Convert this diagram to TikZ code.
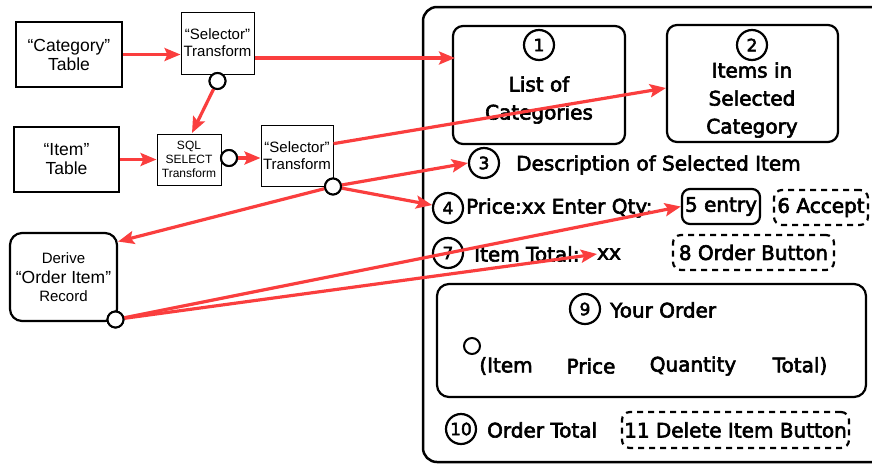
\documentclass[tikz,border=0pt]{standalone}
\usepackage{fontspec}
\setmainfont{DejaVu Sans}
\newfontfamily\arial{Liberation Sans}
\newfontfamily\sketchfont[FakeBold=3]{DejaVu Sans}
\usetikzlibrary{arrows.meta}
\definecolor{flowred}{RGB}{250,62,62}
\tikzset{
  x=1pt, y=-1pt,
  tbl/.style={draw, line width=2.2pt, inner sep=0pt, align=center, font=\arial\fontsize{17.5}{19}\selectfont},
  xform/.style={draw, line width=1pt, fill=white, inner sep=0pt, align=center, font=\arial\fontsize{15}{17}\selectfont},
  sqlbox/.style={draw, line width=1pt, fill=white, inner sep=0pt, align=center, font=\arial\fontsize{12}{14}\selectfont},
  derivebox/.style={draw, line width=2.2pt, rounded corners=12pt, inner sep=0pt},
  lbl/.style={inner sep=0pt, font=\arial\fontsize{15}{17}\selectfont},
  port/.style={circle, draw, line width=2pt, fill=white, inner sep=0pt, minimum size=16pt},
  flow/.style={draw=flowred, line width=3.2pt, -{Stealth[length=16pt, width=13pt, inset=3pt]}},
  panel/.style={draw, line width=2.2pt, rounded corners=10pt},
  dashpanel/.style={draw, line width=2.2pt, rounded corners=8pt, dash pattern=on 6pt off 5pt},
  num/.style={circle, draw, line width=2.2pt, minimum size=30pt, inner sep=0pt, font=\sketchfont\fontsize{17}{19}\selectfont},
  ui/.style={inner sep=0pt, font=\sketchfont\fontsize{20}{28}\selectfont},
}
\begin{document}
\begin{tikzpicture}
\useasboundingbox (0,0) rectangle (872,464);

% ---------- screen frame ----------
\begin{scope}
  \clip (0,0) rectangle (872,464);
  \draw[line width=2.5pt, rounded corners=14pt] (423,7) rectangle (900,462);
\end{scope}

% ---------- data flow side ----------
\node[tbl, minimum width=106pt, minimum height=65pt] (cat) at (69,54.5) {“Category”\\Table};
\node[xform, minimum width=73pt, minimum height=62pt] (sel1) at (217.5,43) {“Selector”\\Transform};
\node[tbl, minimum width=105pt, minimum height=65pt] (itm) at (66.5,159.5) {“Item”\\Table};
\node[sqlbox, minimum width=64pt, minimum height=51pt] (sql) at (189,159.5) {SQL\\SELECT\\Transform};
\node[xform, minimum width=72pt, minimum height=61pt] (sel2) at (297,155.5) {“Selector”\\Transform};
\node[derivebox, minimum width=107pt, minimum height=88pt] (der) at (63.5,277) {};
\node[lbl] (der1) at (63.5,258) {Derive};
\node[lbl, font=\arial\fontsize{17.5}{19}\selectfont] (der2) at (63.5,277) {“Order Item”};
\node[lbl] (der3) at (63.5,296) {Record};

% ---------- screen widgets ----------
\draw[panel] (453,26) rectangle (625,144);
\node[num] (n1) at (539,45) {1};
\node[ui, align=center] (t1) at (539,100) {List of\\Categories};
\coordinate (box1in) at (455,58);

\draw[panel] (667,25) rectangle (838,142);
\node[num] (n2) at (752,45) {2};
\node[ui, align=center] (t2) at (752,100) {Items in\\Selected\\Category};
\coordinate (box2in) at (666,88);

\node[num] (n3) at (484,163) {3};
\node[ui, anchor=west] (t3) at (516,165) {Description of Selected Item};

\node[num] (n4) at (448,208) {4};
\node[ui, anchor=west] (t4) at (466,208) {Price:xx Enter Qty:};
\node[ui, draw, line width=2.2pt, rounded corners=8pt, minimum width=78pt, minimum height=35pt] (b5) at (721,206.5) {5 entry};
\node[ui, dashpanel, minimum width=94pt, minimum height=35pt] (b6) at (821,207.5) {6 Accept};

\node[num] (n7) at (448,253) {7};
\node[ui, anchor=west] (t7) at (474,254) {Item Total:};
\node[ui, anchor=west] (xx) at (597,254) {xx};
\node[ui, dashpanel, minimum width=161pt, minimum height=35pt] (b8) at (753.5,252.5) {8 Order Button};

\draw[panel, rounded corners=12pt] (437,284) rectangle (866,397);
\node[num] (n9) at (585,309) {9};
\node[ui, anchor=west] (t9) at (610,310) {Your Order};
\node[circle, draw, line width=2pt, minimum size=16pt, inner sep=0pt] (sel) at (472,346) {};
\node[ui] (c1) at (506,366) {(Item};
\node[ui] (c2) at (591,366) {Price};
\node[ui] (c3) at (693,366) {Quantity};
\node[ui] (c4) at (800,366) {Total)};

\node[num] (n10) at (461,429) {10};
\node[ui, anchor=west] (t10) at (487,430) {Order Total};
\node[ui, dashpanel, minimum width=227pt, minimum height=36pt] (b11) at (735.5,430) {11 Delete Item Button};

% ---------- flows ----------
\draw[flow] (cat.east) -- (cat.east -| sel1.west);
\draw[flow] (sel1.east |- box1in) -- (box1in);
\draw[flow] (itm.east) -- (sql.west);
\draw[flow] (sel2.18) -- (box2in);

\node[port] (p1) at (217.5,81) {};
\node[port] (p2) at (229,158) {};
\node[port] (p3) at (333,186.5) {};
\node[port] (p4) at (115.5,319.5) {};

\coordinate (sqlin) at (192,133);
\draw[flow] (p1) -- (sqlin);
\draw[flow] (p2) -- (p2 -| sel2.west);
\draw[flow] (p3) -- (n3.west);
\draw[flow] (p3) -- (n4);
\draw[flow] (p3) -- (der.33);
\draw[flow] (p4) -- (b5.west);
\draw[flow] (p4) -- (xx.west);

% ports on top of the flow lines
\node[port] at (p1) {};
\node[port] at (p2) {};
\node[port] at (p3) {};
\node[port] at (p4) {};
\end{tikzpicture}
\end{document}
